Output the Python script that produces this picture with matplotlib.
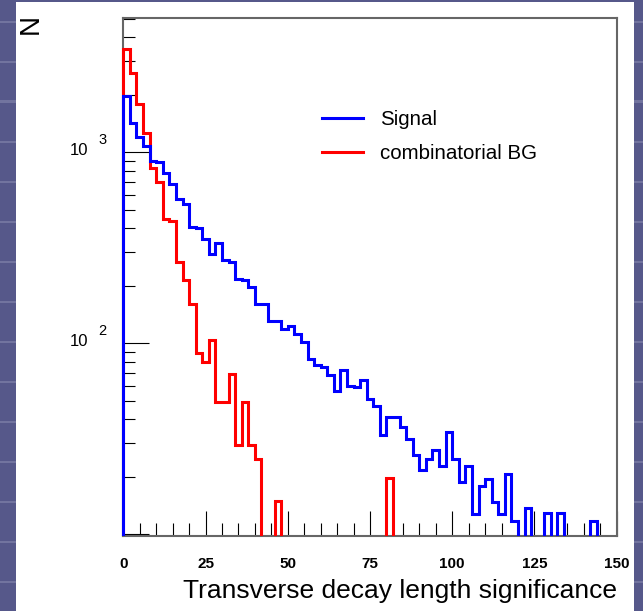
import matplotlib
matplotlib.use("Agg")
import matplotlib.pyplot as plt
import numpy as np
from matplotlib.patches import Rectangle
from matplotlib.ticker import MultipleLocator, LogLocator, NullFormatter, FixedLocator

plt.rcParams['font.family'] = ['Liberation Sans', 'DejaVu Sans']

# histogram binning: 75 bins of width 2 from 0 to 150
bin_edges = np.arange(0, 152, 2)

# signal counts per bin
signal = [1963, 1413, 1202, 1079, 897, 883, 773, 685, 567, 534,
          406, 402, 351, 293, 335, 272, 265, 218, 214, 197,
          160, 161, 131, 131, 119, 123, 112, 102, 83, 77,
          75, 68, 56, 72, 60, 59, 64, 51, 47, 33,
          41, 41, 36.5, 31.7, 25.9, 21.6, 24.7, 27.5, 22.8, 34.4,
          24.7, 18.8, 22.8, 12.8, 17.8, 19.4, 14.8, 12.8, 20.6, 11.8,
          0, 13.8, 0, 0, 12.9, 0, 12.9, 0, 0, 0,
          0, 11.7, 0, 0, 0]

# combinatorial background counts per bin
background = [3451, 2582, 1782, 1253, 828, 694, 444, 437, 265, 214,
              160, 89, 80, 104, 49.3, 49.3, 69.4, 29.4, 49.3, 29.4,
              24.7, 0, 0, 14.9, 0, 0, 0, 0, 0, 0,
              0, 0, 0, 0, 0, 0, 0, 0, 0, 0,
              19.7, 0, 0, 0, 0, 0, 0, 0, 0, 0,
              0, 0, 0, 0, 0, 0, 0, 0, 0, 0,
              0, 0, 0, 0, 0, 0, 0, 0, 0, 0,
              0, 0, 0, 0, 0]

series_labels = ['Signal', 'combinatorial BG']
x_major_ticks = [0, 25, 50, 75, 100, 125, 150]
y_decades = [2, 3]

W, H = 643, 611
fig = plt.figure(figsize=(W / 100, H / 100), dpi=100)
fig.patch.set_facecolor('#56588a')

# slide-like background: faint stripes on the margins, white page in the middle
for yy in range(23, H, 40):
    fig.patches.append(Rectangle((0, 1 - yy / H), 1, 2.5 / H, transform=fig.transFigure,
                                 facecolor='#72749f', edgecolor='none', zorder=-3))
fig.patches.append(Rectangle((16 / W, 0), (634 - 16) / W, (H - 2) / H,
                             transform=fig.transFigure, facecolor='white',
                             edgecolor='none', zorder=-2))

ax = fig.add_axes([123.3 / W, 1 - 536 / H, (616.7 - 123.3) / W, (536 - 17.7) / H])
ax.patch.set_alpha(0)

bg_line = ax.stairs(background, bin_edges, color='#ff0000', linewidth=2.2, zorder=3)
sig_line = ax.stairs(signal, bin_edges, color='#0000ff', linewidth=2.2, zorder=3)

# let the outline sit fully on the left frame line, but cut it at the bottom
clip_rect = Rectangle((-0.01, 0), 1.02, 1.01, transform=ax.transAxes)
for art in (bg_line, sig_line):
    art.set_clip_path(clip_rect)

ax.set_yscale('log')
ax.set_xlim(0, 150)
ax.set_ylim(9.8, 5050)

for side in ['top', 'right', 'bottom', 'left']:
    ax.spines[side].set_color('#666666')
    ax.spines[side].set_linewidth(1.5)

ax.xaxis.set_major_locator(FixedLocator(x_major_ticks))
ax.xaxis.set_minor_locator(MultipleLocator(5))
ax.tick_params(axis='x', which='major', direction='in', length=18, width=0.8,
               color='black', pad=15, labelsize=11)
ax.tick_params(axis='x', which='minor', direction='in', length=9.4, width=0.8, color='black')
for lbl in ax.get_xticklabels():
    lbl.set_fontweight('bold')

ax.yaxis.set_major_locator(LogLocator(base=10, numticks=10))
ax.yaxis.set_minor_locator(LogLocator(base=10, subs=np.arange(2, 10), numticks=20))
ax.yaxis.set_major_formatter(NullFormatter())
ax.yaxis.set_minor_formatter(NullFormatter())
ax.tick_params(axis='y', which='major', direction='in', length=18.5, width=0.8, color='black')
ax.tick_params(axis='y', which='minor', direction='in', length=8.6, width=0.8, color='black')

# ROOT style "10 ^3" labels on the log axis
for d in y_decades:
    ax.annotate('10', xy=(0, 10 ** d), xycoords=('axes fraction', 'data'),
                xytext=(-25, 1.5), textcoords='offset points', ha='right', va='center',
                fontsize=12)
    ax.annotate(str(d), xy=(0, 10 ** d), xycoords=('axes fraction', 'data'),
                xytext=(-18, 8.5), textcoords='offset points', ha='left', va='center',
                fontsize=10.5)

ax.set_xlabel('Transverse decay length significance', fontsize=19, loc='right', labelpad=6)

# y title drawn rotated in the top left corner
fig.text(31 / W, 1 - 23.5 / H, 'N', rotation=90, ha='center', va='center', fontsize=20)

ax.legend([sig_line, bg_line], series_labels,
          loc='upper left', bbox_to_anchor=(0.4027, 1 - (110 - 17.7) / (536 - 17.7)),
          frameon=False, fontsize=14.8, handlelength=2.0, handletextpad=0.8,
          labelspacing=0.75, borderpad=0, borderaxespad=0)

fig.savefig('out.png', dpi=100, facecolor=fig.get_facecolor())
